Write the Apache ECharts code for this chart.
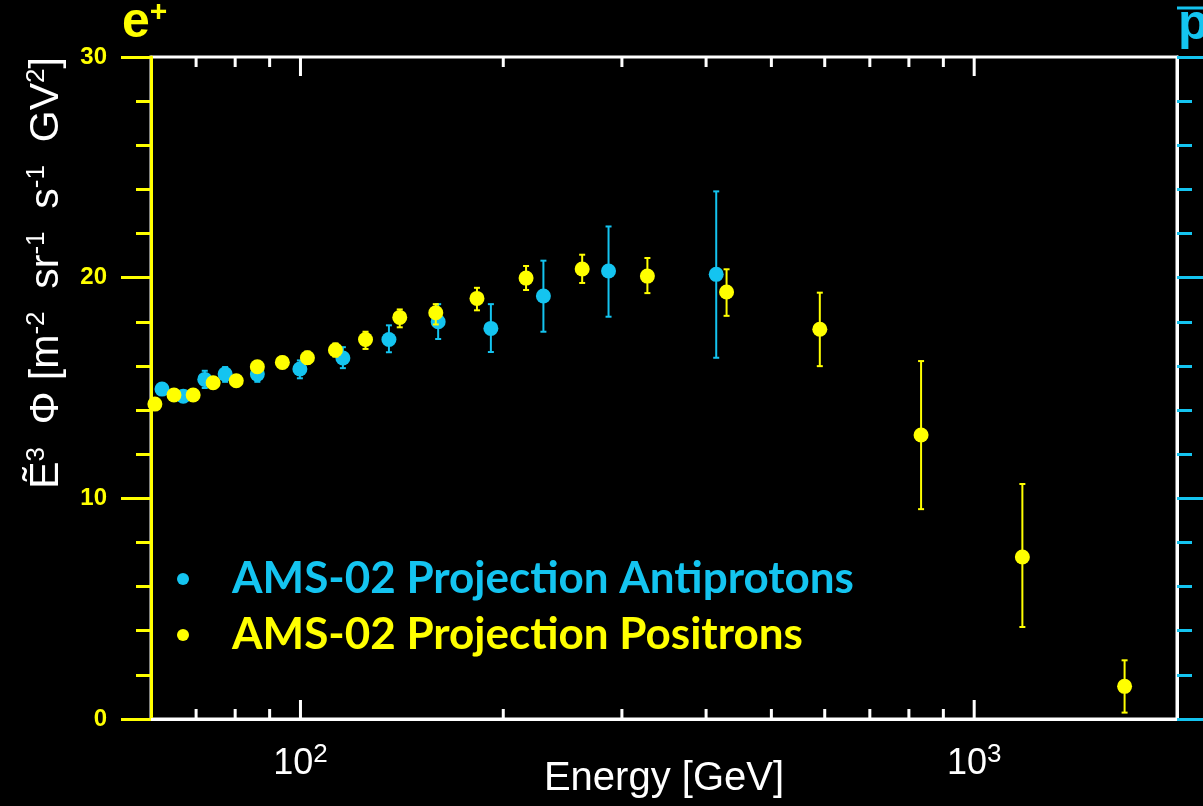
<!DOCTYPE html>
<html>
<head>
<meta charset="utf-8">
<script src="https://cdn.jsdelivr.net/npm/echarts@6/dist/echarts.min.js"></script>
<style>
html, body { margin: 0; padding: 0; background: #000; }
#chart { width: 1203px; height: 806px; }
</style>
</head>
<body>
<div id="chart"></div>
<script>
// AMS-02 projection, antiprotons
var pbarEnergy = [62.3, 67.0, 72.1, 77.3, 86.3, 99.8, 115.6, 135.3, 160.1, 191.7, 229.4, 286.6, 414.1];
var pbarFlux   = [14.95, 14.63, 15.39, 15.63, 15.63, 15.86, 16.36, 17.20, 18.00, 17.70, 19.17, 20.30, 20.15];
var pbarLow    = [14.75, 14.43, 15.00, 15.28, 15.28, 15.44, 15.90, 16.62, 17.22, 16.63, 17.55, 18.23, 16.37];
var pbarHigh   = [15.15, 14.83, 15.78, 15.95, 15.98, 16.25, 16.85, 17.84, 18.80, 18.80, 20.77, 22.32, 23.91];

// AMS-02 projection, positrons
var posEnergy = [60.8, 64.9, 69.3, 74.2, 80.3, 86.3, 94.0, 102.4, 112.7, 124.9, 140.4, 158.8, 182.8, 216.2, 261.9, 327.3, 429.0, 590, 834, 1179, 1672];
var posFlux   = [14.27, 14.68, 14.68, 15.24, 15.33, 15.96, 16.16, 16.37, 16.72, 17.20, 18.20, 18.41, 19.06, 19.98, 20.39, 20.07, 19.35, 17.66, 12.87, 7.34, 1.48];
var posLow    = [14.10, 14.50, 14.50, 15.05, 15.12, 15.72, 15.90, 16.10, 16.42, 16.77, 17.75, 17.88, 18.52, 19.44, 19.76, 19.30, 18.27, 15.99, 9.51, 4.17, 0.29];
var posHigh   = [14.45, 14.86, 14.86, 15.45, 15.55, 16.20, 16.42, 16.65, 17.02, 17.55, 18.56, 18.80, 19.54, 20.53, 21.04, 20.89, 20.38, 19.32, 16.22, 10.65, 2.66];

// energy axis ticks (log), y range
var energyTicks = [70, 80, 90, 100, 200, 300, 400, 500, 600, 700, 800, 900, 1000];
var xMin = 60, xMax = 2000;
var yMin = 0, yMax = 30;

var CYAN = '#14c4f0';
var YELLOW = '#ffff00';
var SANS = '"Liberation Sans", Arial, sans-serif';

function zip(a, b, c) {
	var out = [];
	for (var i = 0; i < a.length; i++) {
		out.push(c ? [a[i], b[i], c[i]] : [a[i], b[i]]);
	}
	return out;
}

function isDecade(v) {
	var l = Math.log10(v);
	return Math.abs(l - Math.round(l)) < 1e-9;
}

function errorBar(params, api) {
	var x = api.value(0);
	var top = api.coord([x, api.value(2)]);
	var bot = api.coord([x, api.value(1)]);
	var st = { stroke: api.visual('color'), lineWidth: 2 };
	var cap = 3;
	return {
		type: 'group',
		children: [
			{ type: 'line', shape: { x1: top[0], y1: top[1], x2: bot[0], y2: bot[1] }, style: st },
			{ type: 'line', shape: { x1: top[0] - cap, y1: top[1], x2: top[0] + cap, y2: top[1] }, style: st },
			{ type: 'line', shape: { x1: bot[0] - cap, y1: bot[1], x2: bot[0] + cap, y2: bot[1] }, style: st }
		]
	};
}

function energyTick(params, api) {
	var v = api.value(0);
	var len = isDecade(v) ? 19 : 10;
	var b = api.coord([v, yMin]);
	var t = api.coord([v, yMax]);
	var st = { stroke: '#ffffff', lineWidth: 3 };
	return {
		type: 'group',
		children: [
			{ type: 'line', shape: { x1: b[0], y1: b[1], x2: b[0], y2: b[1] - len }, style: st },
			{ type: 'line', shape: { x1: t[0], y1: t[1], x2: t[0], y2: t[1] + len }, style: st }
		]
	};
}

var chart = echarts.init(document.getElementById('chart'));

chart.setOption({
	backgroundColor: '#000000',
	animation: false,
	grid: {
		left: 151, right: 26, top: 57, bottom: 87,
		containLabel: false, outerBoundsMode: 'none',
		show: true, borderColor: '#ffffff', borderWidth: 3
	},
	legend: {
		orient: 'vertical',
		left: 172, top: 546,
		itemGap: 0,
		itemWidth: 12, itemHeight: 12,
		icon: 'circle',
		textStyle: {
			fontFamily: 'Lato, sans-serif', fontWeight: 'bold', fontSize: 44,
			lineHeight: 56, padding: [0, 0, 0, 38]
		},
		data: [
			{ name: 'AMS-02 Projection Antiprotons', textStyle: { color: CYAN } },
			{ name: 'AMS-02 Projection Positrons', textStyle: { color: YELLOW } }
		]
	},
	xAxis: {
		type: 'log', logBase: 10, min: xMin, max: xMax,
		name: 'Energy [GeV]', nameLocation: 'middle', nameGap: 40, nameMoveOverlap: false,
		nameTextStyle: { color: '#ffffff', fontFamily: SANS, fontSize: 40, verticalAlign: 'top' },
		axisLine: { lineStyle: { color: '#ffffff', width: 3 } },
		axisTick: { show: false },
		splitLine: { show: false },
		axisLabel: {
			margin: 23, showMinLabel: false, showMaxLabel: false,
			formatter: function(v) {
				if (!isDecade(v)) return '';
				return '{b|10}{s|' + Math.round(Math.log10(v)) + '}';
			},
			rich: {
				b: { color: '#ffffff', fontFamily: SANS, fontSize: 36, lineHeight: 44 },
				s: { color: '#ffffff', fontFamily: SANS, fontSize: 26, lineHeight: 18, verticalAlign: 'top' }
			}
		}
	},
	yAxis: [
		{
			type: 'value', position: 'left', min: yMin, max: yMax, interval: 10,
			axisLine: { show: true, lineStyle: { color: YELLOW, width: 3 } },
			axisTick: { show: true, inside: false, length: 30, lineStyle: { color: YELLOW, width: 3 } },
			minorTick: { show: true, splitNumber: 5, length: 15, lineStyle: { color: YELLOW, width: 3 } },
			splitLine: { show: false },
			axisLabel: { color: YELLOW, fontFamily: SANS, fontWeight: 'bold', fontSize: 24, margin: 44 }
		},
		{
			type: 'value', position: 'right', min: yMin, max: yMax, interval: 10,
			axisLine: { show: true, lineStyle: { color: '#ffffff', width: 3 } },
			axisTick: { show: true, inside: false, length: 30, lineStyle: { color: CYAN, width: 3 } },
			minorTick: { show: true, splitNumber: 5, length: 15, lineStyle: { color: CYAN, width: 3 } },
			splitLine: { show: false },
			axisLabel: { show: false }
		}
	],
	graphic: [
		{
			type: 'text', x: 47, y: 273, rotation: Math.PI / 2, silent: true,
			style: {
				text: '{n|Ẽ}{s|3}{n|  Φ [m}{s|-2}{n|  sr}{s|-1}{n|  s}{s|-1}{n|  GV}{s|2}{n|]}',
				align: 'center', verticalAlign: 'middle',
				rich: {
					n: { fill: '#ffffff', fontFamily: SANS, fontSize: 41, lineHeight: 46 },
					s: { fill: '#ffffff', fontFamily: SANS, fontSize: 26, lineHeight: 22, verticalAlign: 'top' }
				}
			}
		},
		{
			type: 'text', x: 122, y: -2, silent: true,
			style: {
				text: '{e|e}{p|+}',
				rich: {
					e: { fill: YELLOW, fontFamily: SANS, fontWeight: 'bold', fontSize: 50 },
					p: { fill: YELLOW, fontFamily: SANS, fontWeight: 'bold', fontSize: 30, verticalAlign: 'top' }
				}
			}
		},
		{
			type: 'text', x: 1178, y: 0, silent: true,
			style: { text: 'p', fill: CYAN, fontFamily: SANS, fontWeight: 'bold', fontSize: 50 }
		},
		{
			type: 'line', silent: true,
			shape: { x1: 1177, y1: 8, x2: 1203, y2: 8 },
			style: { stroke: CYAN, lineWidth: 3 }
		}
	],
	series: [
		{
			type: 'custom', name: 'ticks', silent: true, clip: false,
			renderItem: energyTick,
			encode: { x: 0, y: 1 },
			data: energyTicks.map(function(v) { return [v, yMin]; }),
			z: 1
		},
		{
			type: 'custom', name: 'pbarErr', silent: true,
			itemStyle: { color: CYAN },
			renderItem: errorBar,
			encode: { x: 0, y: [1, 2] },
			data: zip(pbarEnergy, pbarLow, pbarHigh),
			z: 2
		},
		{
			type: 'scatter', name: 'AMS-02 Projection Antiprotons',
			symbolSize: 15,
			itemStyle: { color: CYAN, opacity: 1 },
			data: zip(pbarEnergy, pbarFlux),
			z: 3
		},
		{
			type: 'custom', name: 'posErr', silent: true,
			itemStyle: { color: YELLOW },
			renderItem: errorBar,
			encode: { x: 0, y: [1, 2] },
			data: zip(posEnergy, posLow, posHigh),
			z: 4
		},
		{
			type: 'scatter', name: 'AMS-02 Projection Positrons',
			symbolSize: 15,
			itemStyle: { color: YELLOW, opacity: 1 },
			data: zip(posEnergy, posFlux),
			z: 5
		}
	]
});
</script>
</body>
</html>
